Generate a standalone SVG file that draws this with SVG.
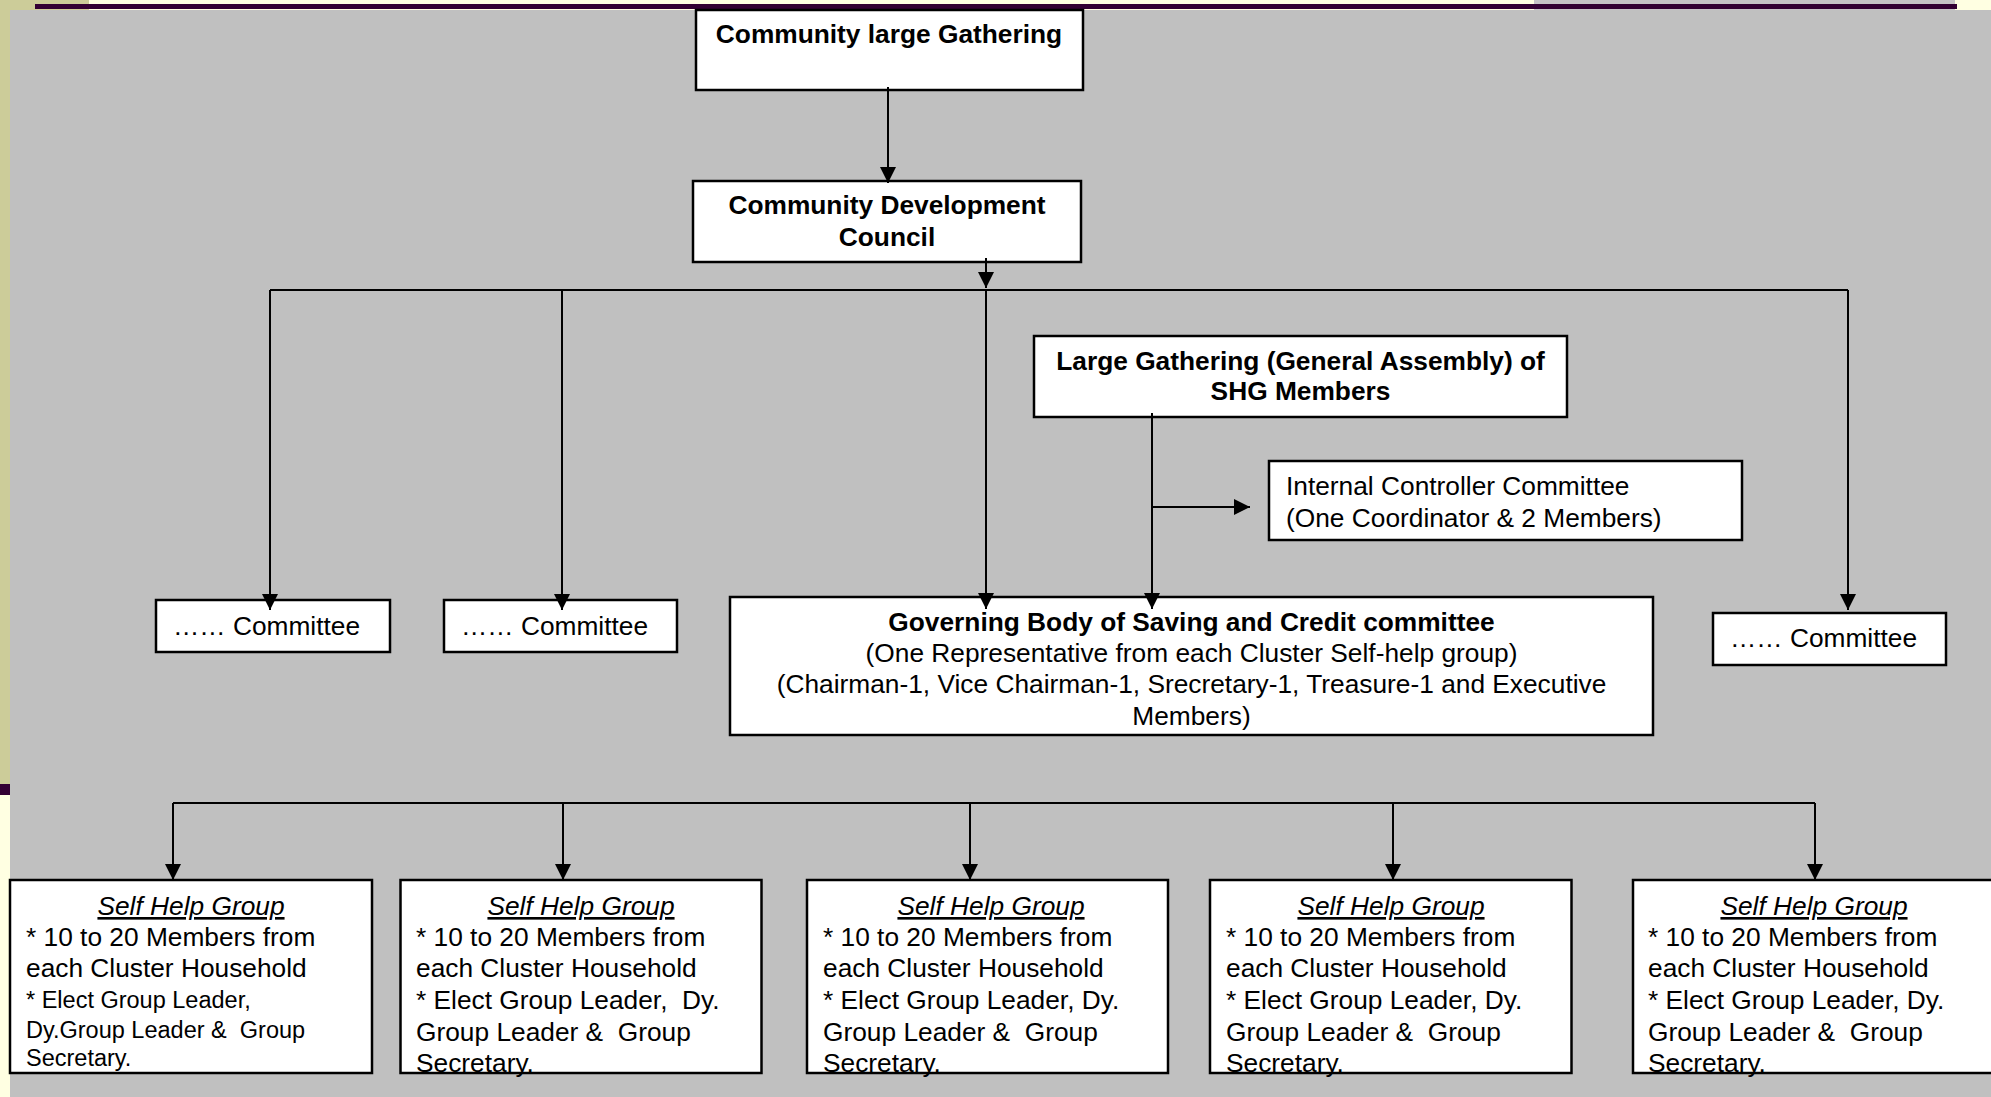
<svg xmlns="http://www.w3.org/2000/svg" width="1991" height="1097" viewBox="0 0 1991 1097">
<style>
.box{fill:#ffffff;stroke:#000000;stroke-width:2.5}
.t{font-family:"Liberation Sans",Arial,Helvetica,sans-serif;font-size:26.3px;fill:#000000}
.b{font-weight:bold}
.c{text-anchor:middle}
.ti{font-style:italic;text-decoration:underline}
.sm{font-size:23.5px}
.ln{fill:none;stroke:#000000;stroke-width:2}
.ar{marker-end:url(#ah)}
</style>
<defs>
<marker id="ah" markerUnits="userSpaceOnUse" markerWidth="16" markerHeight="16" refX="16" refY="8" orient="auto">
<path d="M0,0 L16,8 L0,16 z" fill="#000000"/>
</marker>
</defs>
<g id="background">
<rect x="0" y="0" width="1991" height="1097" fill="#ffffe2"/>
<rect x="0" y="0" width="10" height="784" fill="#cccc99"/>
<rect x="0" y="0" width="89" height="10" fill="#cccc99"/>
<rect x="0" y="784" width="10" height="11" fill="#330033"/>
<rect x="1534" y="0" width="421" height="10" fill="#c6c3c6"/>
<rect x="35" y="4" width="1922" height="5" fill="#330033"/>
<rect x="10" y="10" width="1981" height="1087" fill="#c0c0c0"/>
</g>
<g id="node-community-large-gathering">
<rect class="box" x="696" y="10" width="387" height="80"/>
<text class="t b c" x="889" y="43">Community large Gathering</text>
</g>
<g id="node-cdc">
<rect class="box" x="693" y="181" width="388" height="81"/>
<text class="t b c" x="887" y="214">Community Development</text>
<text class="t b c" x="887" y="246">Council</text>
</g>
<g id="node-committee-1">
<rect class="box" x="156" y="600" width="234" height="52"/>
<text class="t" x="173" y="635">…… Committee</text>
</g>
<g id="node-committee-2">
<rect class="box" x="444" y="600" width="233" height="52"/>
<text class="t" x="461" y="635">…… Committee</text>
</g>
<g id="node-committee-3">
<rect class="box" x="1713" y="613" width="233" height="52"/>
<text class="t" x="1730" y="647">…… Committee</text>
</g>
<g id="node-large-gathering-shg">
<rect class="box" x="1034" y="336" width="533" height="81"/>
<text class="t b c" x="1300.5" y="370">Large Gathering (General Assembly) of</text>
<text class="t b c" x="1300.5" y="400">SHG Members</text>
</g>
<g id="node-internal-controller">
<rect class="box" x="1269" y="461" width="473" height="79"/>
<text class="t" x="1286" y="495">Internal Controller Committee</text>
<text class="t" x="1286" y="527">(One Coordinator &amp; 2 Members)</text>
</g>
<g id="node-governing-body">
<rect class="box" x="730" y="597" width="923" height="138"/>
<text class="t b c" x="1191.5" y="631">Governing Body of Saving and Credit committee</text>
<text class="t c" x="1191.5" y="662">(One Representative from each Cluster Self-help group)</text>
<text class="t c" x="1191.5" y="693">(Chairman-1, Vice Chairman-1, Srecretary-1, Treasure-1 and Executive</text>
<text class="t c" x="1191.5" y="725">Members)</text>
</g>
<g id="node-shg-1">
<rect class="box" x="10" y="880" width="362" height="193"/>
<text class="t ti c" x="191" y="915">Self Help Group</text>
<text class="t" x="26" y="946">* 10 to 20 Members from</text>
<text class="t" x="26" y="977">each Cluster Household</text>
<text class="t sm" x="26" y="1008">* Elect Group Leader,</text>
<text class="t sm" x="26" y="1038" xml:space="preserve">Dy.Group Leader &amp;  Group</text>
<text class="t sm" x="26" y="1066">Secretary.</text>
</g>
<g id="node-shg-2">
<rect class="box" x="400.5" y="880" width="361" height="193"/>
<text class="t ti c" x="581" y="915">Self Help Group</text>
<text class="t" x="416" y="946">* 10 to 20 Members from</text>
<text class="t" x="416" y="977">each Cluster Household</text>
<text class="t" x="416" y="1009" xml:space="preserve">* Elect Group Leader,  Dy.</text>
<text class="t" x="416" y="1041" xml:space="preserve">Group Leader &amp;  Group</text>
<text class="t" x="416" y="1072">Secretary.</text>
</g>
<g id="node-shg-3">
<rect class="box" x="807" y="880" width="361" height="193"/>
<text class="t ti c" x="991" y="915">Self Help Group</text>
<text class="t" x="823" y="946">* 10 to 20 Members from</text>
<text class="t" x="823" y="977">each Cluster Household</text>
<text class="t" x="823" y="1009">* Elect Group Leader, Dy.</text>
<text class="t" x="823" y="1041" xml:space="preserve">Group Leader &amp;  Group</text>
<text class="t" x="823" y="1072">Secretary.</text>
</g>
<g id="node-shg-4">
<rect class="box" x="1210" y="880" width="361.5" height="193"/>
<text class="t ti c" x="1391" y="915">Self Help Group</text>
<text class="t" x="1226" y="946">* 10 to 20 Members from</text>
<text class="t" x="1226" y="977">each Cluster Household</text>
<text class="t" x="1226" y="1009">* Elect Group Leader, Dy.</text>
<text class="t" x="1226" y="1041" xml:space="preserve">Group Leader &amp;  Group</text>
<text class="t" x="1226" y="1072">Secretary.</text>
</g>
<g id="node-shg-5">
<rect class="box" x="1633" y="880" width="362" height="193"/>
<text class="t ti c" x="1814" y="915">Self Help Group</text>
<text class="t" x="1648" y="946">* 10 to 20 Members from</text>
<text class="t" x="1648" y="977">each Cluster Household</text>
<text class="t" x="1648" y="1009">* Elect Group Leader, Dy.</text>
<text class="t" x="1648" y="1041" xml:space="preserve">Group Leader &amp;  Group</text>
<text class="t" x="1648" y="1072">Secretary.</text>
</g>
<g id="connectors">
<path class="ln ar" d="M888,87 V183"/>
<path class="ln ar" d="M986,258 V288"/>
<path class="ln" d="M270,290 H1848"/>
<path class="ln ar" d="M270,290 V610"/>
<path class="ln ar" d="M562,290 V610"/>
<path class="ln ar" d="M986,290 V609"/>
<path class="ln ar" d="M1848,290 V610"/>
<path class="ln ar" d="M1152,413 V609"/>
<path class="ln ar" d="M1152,507 H1250"/>
<path class="ln" d="M173,803 H1815"/>
<path class="ln ar" d="M173,803 V880"/>
<path class="ln ar" d="M563,803 V880"/>
<path class="ln ar" d="M970,803 V880"/>
<path class="ln ar" d="M1393,803 V880"/>
<path class="ln ar" d="M1815,803 V880"/>
</g>
</svg>
